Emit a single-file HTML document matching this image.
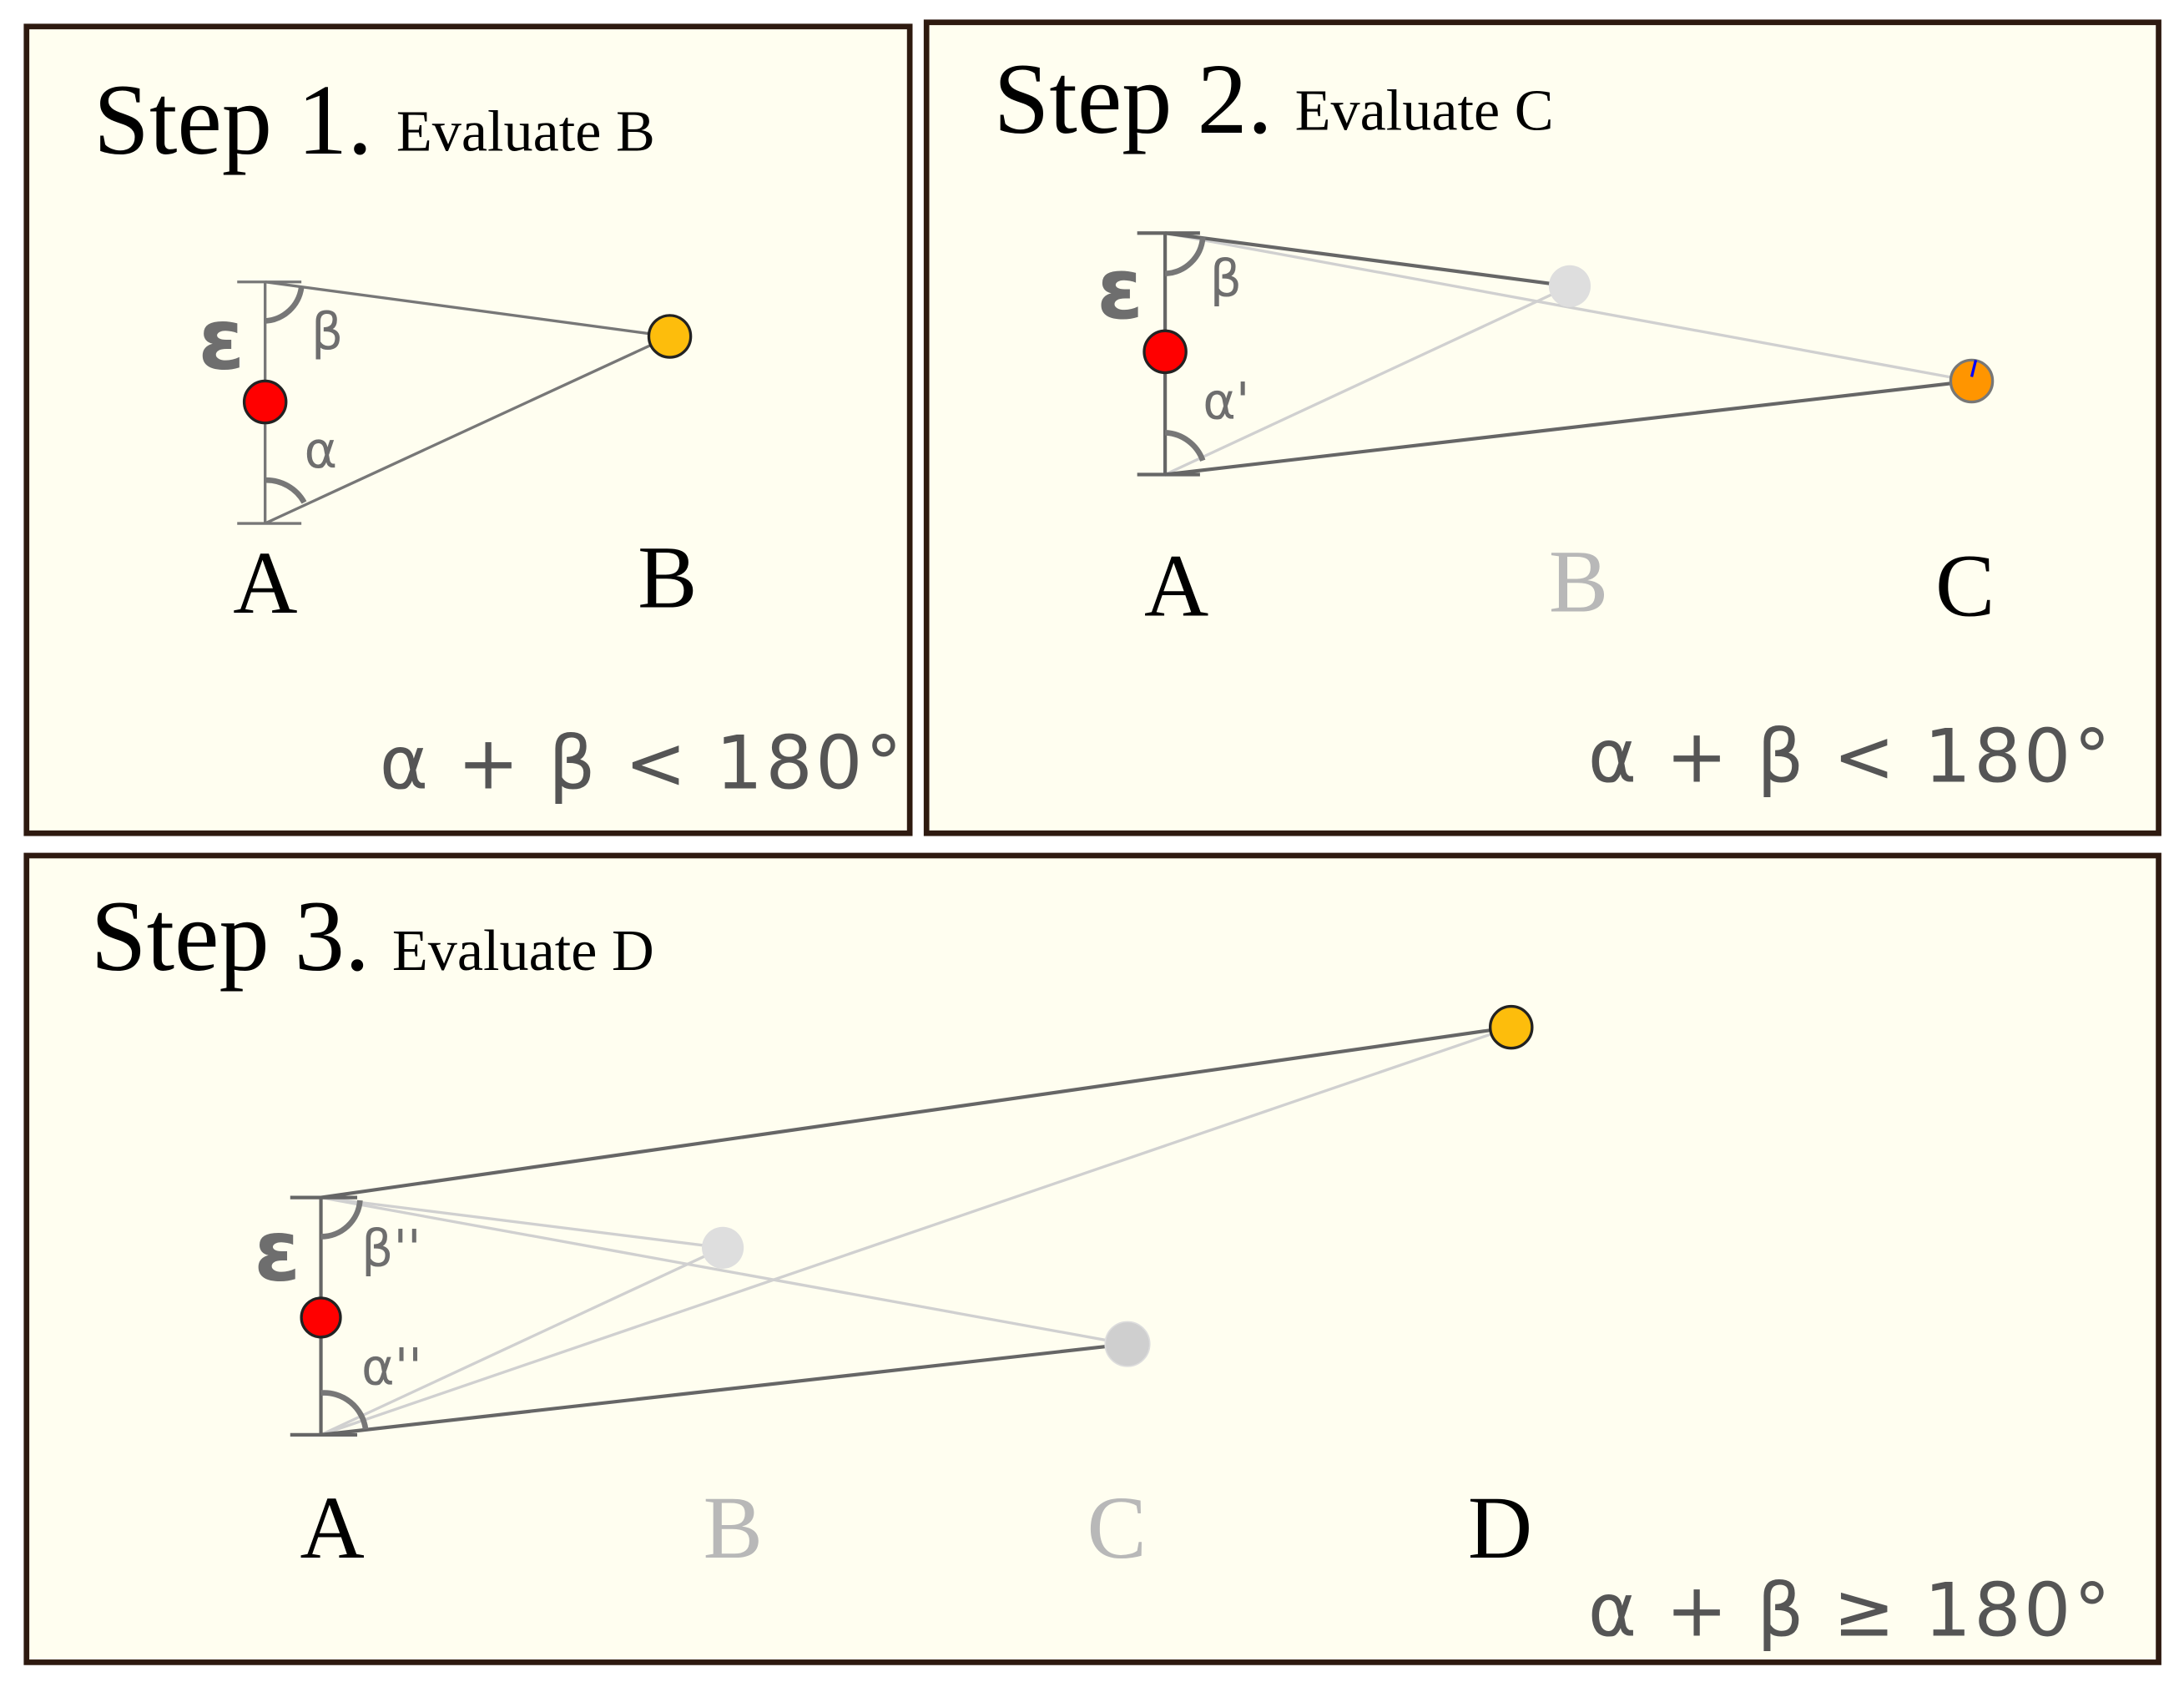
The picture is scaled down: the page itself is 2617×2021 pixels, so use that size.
<!DOCTYPE html>
<html><head><meta charset="utf-8"><style>
html,body{margin:0;padding:0;background:#fff;}
svg{display:block;}
.t{font-family:"Liberation Serif",serif;fill:#000;}
.g{font-family:"DejaVu Sans","Liberation Sans",sans-serif;fill:#6e6e6e;}
.f{font-family:"DejaVu Sans","Liberation Sans",sans-serif;fill:#555;}
</style></head><body>
<svg width="2617" height="2021" viewBox="0 0 1565.2 1208.7" preserveAspectRatio="none" xmlns="http://www.w3.org/2000/svg">
<rect width="1565.2" height="1208.7" fill="#fff"/>
<g fill="#fffef0" stroke="#2e1a10" stroke-width="4">
<rect x="19" y="19" width="633" height="578"/>
<rect x="664" y="16" width="883" height="581"/>
<rect x="19" y="613" width="1528" height="578"/>
</g>

<!-- Panel 1 -->
<text class="t" x="67" y="110" font-size="72">Step 1.</text>
<text class="t" x="284" y="108" font-size="42">Evaluate B</text>
<g stroke="#777" stroke-width="2" fill="none">
<line x1="190" y1="202" x2="190" y2="375"/>
<line x1="170" y1="202" x2="216" y2="202"/>
<line x1="170" y1="375" x2="216" y2="375"/>
<line x1="190" y1="202" x2="480" y2="241"/>
<line x1="190" y1="375" x2="480" y2="241"/>
</g>
<g stroke="#777" stroke-width="4" fill="none">
<path d="M190 230 A28 28 0 0 0 216 206"/>
<path d="M190 344 A31 31 0 0 1 218 360"/>
</g>
<text class="g" x="142" y="264" font-size="60" font-weight="bold">ε</text>
<text class="g" x="223" y="250" font-size="36">β</text>
<text class="g" x="218" y="335" font-size="36">α</text>
<circle cx="190" cy="288" r="15" fill="#f00" stroke="#222" stroke-width="2"/>
<circle cx="480" cy="241" r="15" fill="#fdbd0c" stroke="#222" stroke-width="2"/>
<text class="t" x="167" y="439" font-size="64">A</text>
<text class="t" x="457" y="435" font-size="64">B</text>
<text class="f" x="272" y="565" font-size="53" letter-spacing="2">α + β &lt; 180°</text>

<!-- Panel 2 -->
<text class="t" x="712" y="95" font-size="72">Step 2.</text>
<text class="t" x="928" y="93" font-size="42">Evaluate C</text>
<g stroke="#d0d0d0" stroke-width="2" fill="none">
<line x1="835" y1="167" x2="1413" y2="273"/>
<line x1="835" y1="340" x2="1125" y2="205"/>
</g>
<g stroke="#666" stroke-width="2.5" fill="none">
<line x1="835" y1="167" x2="835" y2="340"/>
<line x1="815" y1="167" x2="860" y2="167"/>
<line x1="815" y1="340" x2="860" y2="340"/>
<line x1="835" y1="167" x2="1125" y2="205"/>
<line x1="835" y1="340" x2="1413" y2="273"/>
</g>
<g stroke="#777" stroke-width="4" fill="none">
<path d="M835 196 A28 28 0 0 0 862 170"/>
<path d="M835 310 A30 30 0 0 1 862 330"/>
</g>
<text class="g" x="786" y="228" font-size="60" font-weight="bold">ε</text>
<text class="g" x="867" y="212" font-size="36">β</text>
<text class="g" x="862" y="300" font-size="36">α'</text>
<circle cx="835" cy="252" r="15" fill="#f00" stroke="#222" stroke-width="2"/>
<circle cx="1125" cy="205" r="15" fill="#dedede"/>
<circle cx="1413" cy="273" r="15" fill="#ff9500" stroke="#777" stroke-width="2"/>
<line x1="1413" y1="270" x2="1416" y2="258" stroke="#00f" stroke-width="2"/>
<text class="t" x="820" y="441" font-size="64">A</text>
<text class="t" x="1110" y="438" font-size="64" style="fill:#b8b8b8">B</text>
<text class="t" x="1387" y="441" font-size="64">C</text>
<text class="f" x="1138" y="560" font-size="53" letter-spacing="2">α + β &lt; 180°</text>

<!-- Panel 3 -->
<text class="t" x="65" y="695" font-size="72">Step 3.</text>
<text class="t" x="281" y="695" font-size="42">Evaluate D</text>
<g stroke="#d0d0d0" stroke-width="2" fill="none">
<line x1="230" y1="858" x2="518" y2="894"/>
<line x1="230" y1="858" x2="808" y2="963"/>
<line x1="230" y1="1028" x2="518" y2="894"/>
<line x1="230" y1="1028" x2="1083" y2="736"/>
</g>
<g stroke="#666" stroke-width="2.5" fill="none">
<line x1="230" y1="858" x2="230" y2="1028"/>
<line x1="208" y1="858" x2="256" y2="858"/>
<line x1="208" y1="1028" x2="256" y2="1028"/>
<line x1="230" y1="858" x2="1083" y2="736"/>
<line x1="230" y1="1028" x2="808" y2="963"/>
</g>
<g stroke="#777" stroke-width="4" fill="none">
<path d="M230 886 A28 28 0 0 0 258 860"/>
<path d="M230 998 A30 30 0 0 1 262 1024"/>
</g>
<text class="g" x="182" y="917" font-size="60" font-weight="bold">ε</text>
<text class="g" x="259" y="907" font-size="36">β''</text>
<text class="g" x="259" y="992" font-size="36">α''</text>
<circle cx="230" cy="944" r="14" fill="#f00" stroke="#222" stroke-width="2"/>
<circle cx="518" cy="894" r="15" fill="#dedede"/>
<circle cx="808" cy="963" r="16" fill="#cfcfcf" stroke="#ddd" stroke-width="1"/>
<circle cx="1083" cy="736" r="15" fill="#fdbd0c" stroke="#222" stroke-width="2"/>
<text class="t" x="215" y="1116" font-size="64">A</text>
<text class="t" x="504" y="1116" font-size="64" style="fill:#b8b8b8">B</text>
<text class="t" x="779" y="1116" font-size="64" style="fill:#b8b8b8">C</text>
<text class="t" x="1052" y="1116" font-size="64">D</text>
<text class="f" x="1138" y="1172" font-size="53" letter-spacing="2">α + β  ≥  180°</text>
</svg>
</body></html>
